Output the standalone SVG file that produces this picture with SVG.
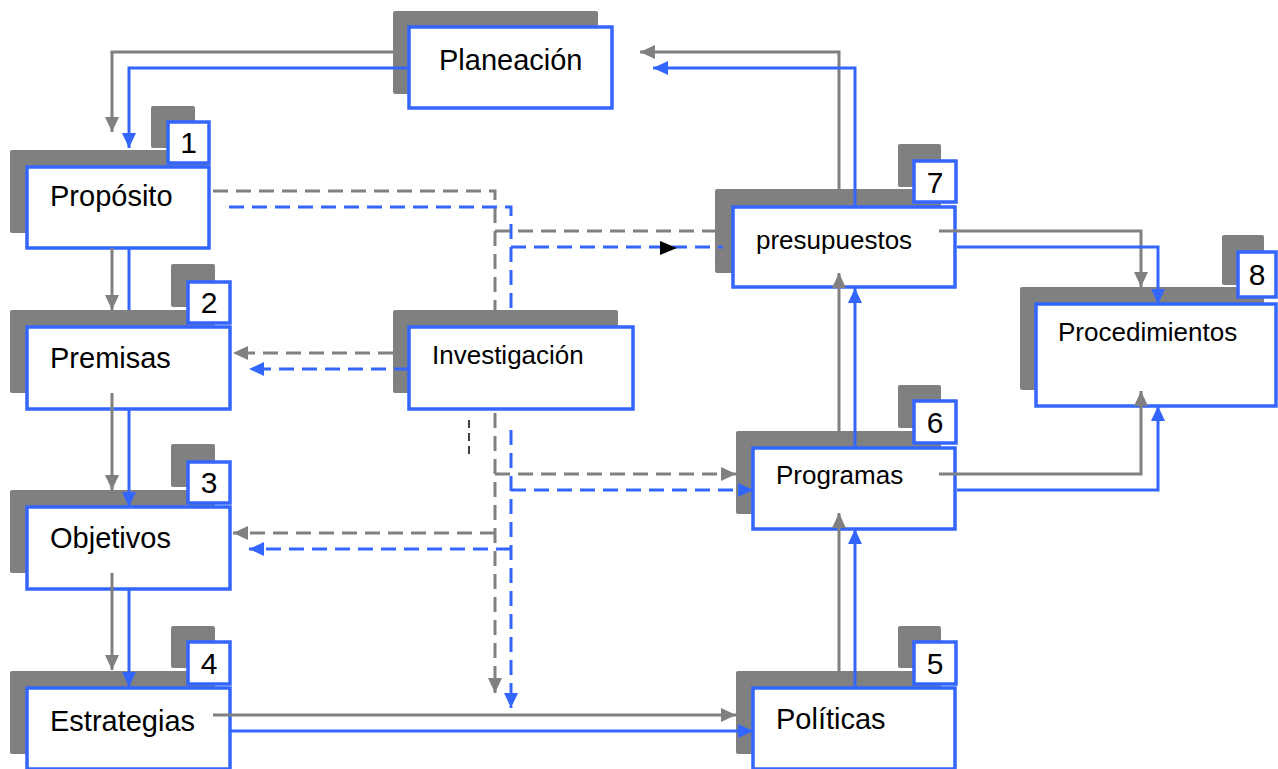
<svg xmlns="http://www.w3.org/2000/svg" width="1278" height="769" viewBox="0 0 1278 769">
<style>
.sh{fill:#808080}
.bx{fill:#fff;stroke:#3366ff;stroke-width:3.5}
.t{font-family:"Liberation Sans",Arial,sans-serif;font-size:29px;fill:#000}
.s{font-size:26px}
.n{font-size:30px;text-anchor:middle}
.g{stroke:#808080;stroke-width:3;fill:none}
.b{stroke:#3366ff;stroke-width:3;fill:none}
.d{stroke-dasharray:15 8}
.ga{marker-end:url(#ag)}
.ba{marker-end:url(#ab)}
</style>
<defs>
<marker id="ag" markerUnits="userSpaceOnUse" markerWidth="16" markerHeight="14" refX="15" refY="7" orient="auto"><path d="M0,0 L15,7 L0,14 z" fill="#808080"/></marker>
<marker id="ab" markerUnits="userSpaceOnUse" markerWidth="16" markerHeight="14" refX="15" refY="7" orient="auto"><path d="M0,0 L15,7 L0,14 z" fill="#3366ff"/></marker>
</defs>
<rect width="1278" height="769" fill="#fff"/>

<g id="planeacion">
<rect class="sh" x="393" y="11" width="205" height="83" rx="2"/>
<rect class="bx" x="409" y="27" width="203" height="81"/>
<text class="t" x="439" y="70">Planeación</text>
</g>

<g id="proposito">
<rect class="sh" x="151" y="106" width="44" height="42" rx="2"/>
<rect class="sh" x="10" y="150" width="200" height="83" rx="2"/>
<rect class="bx" x="27" y="167" width="182" height="81"/>
<text class="t" x="50" y="206">Propósito</text>
<rect class="bx" x="168" y="122" width="41" height="41"/>
<text class="t n" x="188.5" y="153">1</text>
</g>

<g id="premisas">
<rect class="sh" x="171" y="264" width="44" height="43" rx="2"/>
<rect class="sh" x="10" y="310" width="205" height="83" rx="2"/>
<rect class="bx" x="27" y="327" width="203" height="82"/>
<text class="t" x="50" y="368">Premisas</text>
<rect class="bx" x="188" y="282" width="42" height="41"/>
<text class="t n" x="209" y="313">2</text>
</g>

<g id="objetivos">
<rect class="sh" x="171" y="444" width="44" height="43" rx="2"/>
<rect class="sh" x="10" y="490" width="205" height="83" rx="2"/>
<rect class="bx" x="27" y="507" width="203" height="82"/>
<text class="t" x="50" y="548">Objetivos</text>
<rect class="bx" x="188" y="462" width="42" height="41"/>
<text class="t n" x="209" y="493">3</text>
</g>

<g id="estrategias">
<rect class="sh" x="171" y="626" width="44" height="42" rx="2"/>
<rect class="sh" x="10" y="671" width="205" height="83" rx="2"/>
<rect class="bx" x="27" y="688" width="203" height="81"/>
<text class="t" x="50" y="731">Estrategias</text>
<rect class="bx" x="188" y="642" width="42" height="42"/>
<text class="t n" x="209" y="674">4</text>
</g>

<g id="investigacion">
<rect class="sh" x="393" y="310" width="225" height="83" rx="2"/>
<rect class="bx" x="409" y="327" width="224" height="82"/>
<text class="t s" x="432" y="364">Investigación</text>
</g>

<g id="politicas">
<rect class="sh" x="898" y="626" width="43" height="42" rx="2"/>
<rect class="sh" x="736" y="671" width="205" height="83" rx="2"/>
<rect class="bx" x="753" y="688" width="202" height="81"/>
<text class="t" x="776" y="729">Políticas</text>
<rect class="bx" x="914" y="642" width="42" height="42"/>
<text class="t n" x="935" y="674">5</text>
</g>

<g id="programas">
<rect class="sh" x="898" y="385" width="43" height="43" rx="2"/>
<rect class="sh" x="736" y="431" width="205" height="83" rx="2"/>
<rect class="bx" x="753" y="448" width="202" height="81"/>
<text class="t s" x="776" y="484">Programas</text>
<rect class="bx" x="914" y="401" width="42" height="42"/>
<text class="t n" x="935" y="433">6</text>
</g>

<g id="presupuestos">
<rect class="sh" x="898" y="144" width="43" height="43" rx="2"/>
<rect class="sh" x="715" y="189" width="226" height="84" rx="2"/>
<rect class="bx" x="733" y="207" width="222" height="80"/>
<text class="t s" x="756" y="249">presupuestos</text>
<rect class="bx" x="914" y="161" width="42" height="41"/>
<text class="t n" x="935" y="193">7</text>
</g>

<g id="procedimientos">
<rect class="sh" x="1222" y="235" width="42" height="50" rx="2"/>
<rect class="sh" x="1020" y="287" width="244" height="103" rx="2"/>
<rect class="bx" x="1036" y="304" width="240" height="102"/>
<text class="t s" x="1058" y="341">Procedimientos</text>
<rect class="bx" x="1238" y="252" width="38" height="45"/>
<text class="t n" x="1257" y="285">8</text>
</g>

<g id="connectors">
<path class="g ga" d="M393,52 H112 V132"/>
<path class="b ba" d="M409,68 H129 V148"/>
<path class="g ga" d="M112,248 V310"/>
<path class="b" d="M129,249 V310"/>
<path class="g ga" d="M112,393 V490"/>
<path class="b ba" d="M129,410 V507"/>
<path class="g ga" d="M112,573 V670"/>
<path class="b ba" d="M129,590 V687"/>
<path class="g ga" d="M213,715 H736"/>
<path class="b ba" d="M231,731 H753"/>
<path class="g ga" d="M839,671 V513"/>
<path class="b ba" d="M855,687 V529"/>
<path class="g ga" d="M839,431 V273"/>
<path class="b ba" d="M855,447 V288"/>
<path class="g ga" d="M839,189 V52 H640"/>
<path class="b ba" d="M855,206 V68 H653"/>
<path class="g ga" d="M939,231 H1141 V287"/>
<path class="b ba" d="M957,247 H1158 V304"/>
<path class="g ga" d="M939,474 H1141 V391"/>
<path class="b ba" d="M957,490 H1158 V406"/>

<path class="g d" d="M213,191 H495 V310"/>
<path class="b d" d="M229,207 H511 V310"/>
<path class="g d" d="M495,231 H715"/>
<path class="b d" d="M511,247 H723"/>
<polygon points="660,241 677,248 660,255" fill="#000"/>
<path class="g d ga" d="M393,353 H233"/>
<path class="b d ba" d="M409,369 H249"/>
<path class="g d ga" d="M495,413 V693"/>
<path class="b d ba" d="M511,430 V708"/>
<path class="g d ga" d="M495,474 H736"/>
<path class="b d ba" d="M511,490 H753"/>
<path class="g d ga" d="M495,533 H233"/>
<path class="b d ba" d="M511,549 H249"/>
<path d="M469,420 V455" stroke="#000" stroke-width="1.5" stroke-dasharray="8 5" fill="none"/>
</g>
</svg>
